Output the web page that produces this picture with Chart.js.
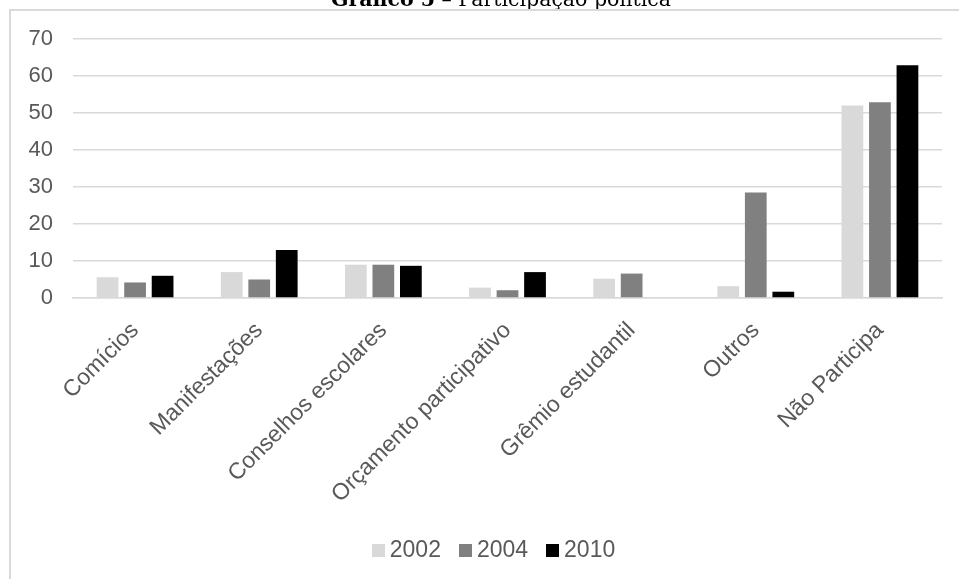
<!DOCTYPE html>
<html>
<head>
<meta charset="utf-8">
<script src="https://cdn.jsdelivr.net/npm/chart.js@4"></script>
<style>
  html, body { margin: 0; padding: 0; background: #fff; overflow: hidden; }
  #wrap { position: relative; width: 959px; height: 579px; }
</style>
</head>
<body>
<div id="wrap"><canvas id="c" width="959" height="579"></canvas></div>
<script>
// Participação política por ano (%)
const categories = ['Comícios', 'Manifestações', 'Conselhos escolares', 'Orçamento participativo', 'Grêmio estudantil', 'Outros', 'Não Participa'];
const years = ['2002', '2004', '2010'];
const values2002 = [5.6, 7, 9, 2.8, 5.2, 3.2, 52];
const values2004 = [4.2, 5, 9, 2.1, 6.6, 28.5, 52.9];
const values2010 = [6, 13, 8.7, 7, 0, 1.7, 62.9];
const yTicks = [0, 10, 20, 30, 40, 50, 60, 70];
const titleBold = 'Gráfico 5';
const titleRest = ' – Participação política';

const seriesColors = ['#d9d9d9', '#808080', '#000000'];
const textGray = '#595959';
const sansFont = '"Liberation Sans", Arial, sans-serif';
const titleSize = 20.5;

// Heading (partly above the canvas) and the frame lines of the chart box
const framePlugin = {
  id: 'frame',
  beforeDraw(chart) {
    const ctx = chart.ctx;
    ctx.save();
    ctx.fillStyle = '#000';
    ctx.textBaseline = 'alphabetic';
    const boldFont = 'bold ' + titleSize + 'px "DejaVu Serif", serif';
    const plainFont = titleSize + 'px "DejaVu Serif", serif';
    ctx.font = boldFont;
    const wb = ctx.measureText(titleBold).width;
    ctx.font = plainFont;
    const wr = ctx.measureText(titleRest).width;
    const x0 = 501 - (wb + wr) / 2;
    ctx.font = boldFont;
    ctx.fillText(titleBold, x0, 6);
    ctx.font = plainFont;
    ctx.fillText(titleRest, x0 + wb, 6);

    ctx.strokeStyle = '#d9d9d9';
    ctx.lineWidth = 2;
    ctx.beginPath();
    ctx.moveTo(10, 579);
    ctx.lineTo(10, 10);
    ctx.lineTo(959, 10);
    ctx.stroke();
    ctx.restore();
  }
};

// Legend row: small squares with the year beside them
const legendRow = {
  id: 'legendRow',
  afterDraw(chart) {
    const ctx = chart.ctx;
    ctx.save();
    ctx.font = '23px ' + sansFont;
    const box = 13, gap = 5, spacing = 18, cy = 550;
    const items = chart.data.datasets.map(d => ({
      text: d.label, color: d.backgroundColor, w: ctx.measureText(d.label).width
    }));
    const total = items.reduce((s, it) => s + box + gap + it.w, 0) + spacing * (items.length - 1);
    let x = 493.5 - total / 2;
    ctx.textBaseline = 'middle';
    items.forEach(it => {
      ctx.fillStyle = it.color;
      ctx.fillRect(Math.round(x), cy - 6, box, box);
      ctx.fillStyle = textGray;
      ctx.fillText(it.text, x + box + gap, cy + 1);
      x += box + gap + it.w + spacing;
    });
    ctx.restore();
  }
};

const seriesValues = [values2002, values2004, values2010];

new Chart(document.getElementById('c'), {
  type: 'bar',
  data: {
    labels: categories,
    datasets: years.map((y, i) => ({
      label: y,
      data: seriesValues[i],
      backgroundColor: seriesColors[i],
      borderWidth: 0,
      barPercentage: 0.79,
      categoryPercentage: 0.665
    }))
  },
  options: {
    responsive: false,
    animation: false,
    devicePixelRatio: 1,
    layout: { padding: { left: 0, right: 17, top: 39, bottom: 0 } },
    plugins: {
      legend: { display: false },
      tooltip: { enabled: false },
      title: { display: false }
    },
    scales: {
      x: {
        grid: { display: false, drawTicks: false },
        border: { color: '#d9d9d9', width: 1.5 },
        ticks: {
          color: textGray,
          font: { family: sansFont, size: 23 },
          minRotation: 45,
          maxRotation: 45,
          autoSkip: false,
          padding: 19
        },
        afterFit(scale) { scale.height = 281; }
      },
      y: {
        min: 0,
        max: 70,
        afterBuildTicks(scale) { scale.ticks = yTicks.map(v => ({ value: v })); },
        grid: { color: '#d9d9d9', lineWidth: 1.5, drawTicks: false },
        border: { display: false },
        ticks: {
          color: textGray,
          font: { family: sansFont, size: 22 },
          padding: 20
        },
        afterFit(scale) { scale.width = 73; }
      }
    }
  },
  plugins: [framePlugin, legendRow]
});
</script>
</body>
</html>
